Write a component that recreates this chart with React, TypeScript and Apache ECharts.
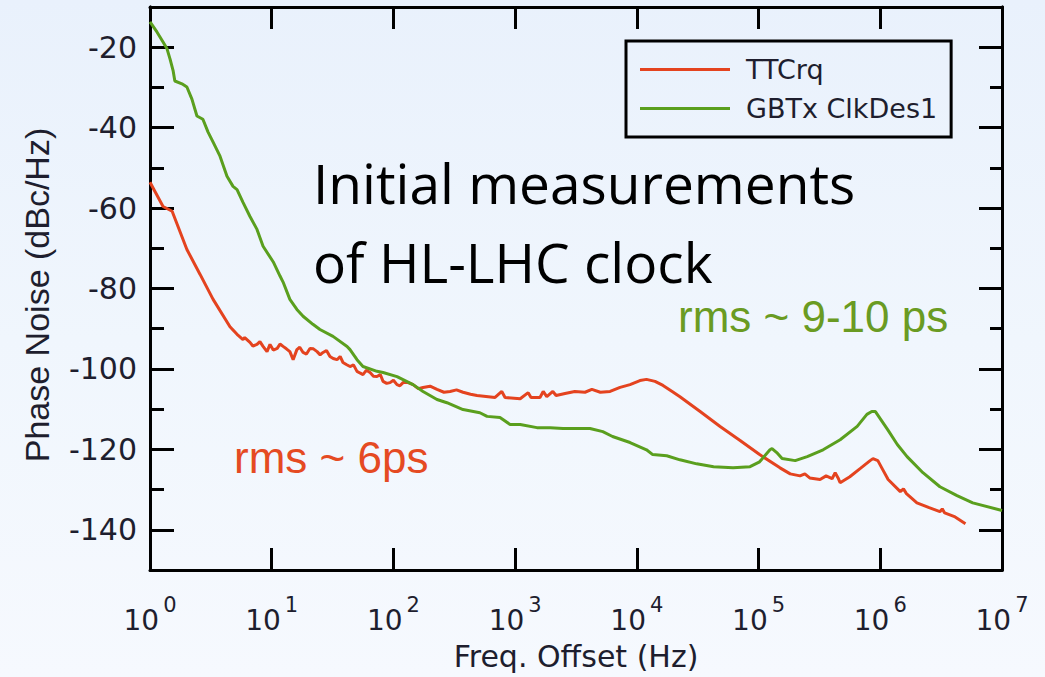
import React, { useEffect, useRef } from "react";
import * as echarts from "echarts";

// Phase-noise traces: offset frequency (Hz) and noise level (dBc/Hz)
const ttcFreq = [
  1, 1.28, 1.52, 2.01, 2.58, 3.3, 4.54, 5.19, 5.81, 6.0, 6.63, 7.0, 7.57, 8.0, 8.49, 9.15, 9.68, 10.3, 11.1,
  11.7, 12.4, 13.2, 14.1, 15.0, 16.1, 17.0, 18.1, 19.3, 20.6, 22.0, 23.6, 25.0, 26.4, 28.2, 30.1, 32.0,
  34.4, 36.5, 38.5, 41.0, 44.0, 47.0, 50.2, 53.0, 56.2, 60.0, 64.3, 68.5, 73.3, 78.0, 82.2, 88.0, 93.8, 100,
  107, 113, 120, 132, 145, 160, 175, 200, 228, 260, 292, 330, 373, 430, 486, 684, 777, 826, 1100, 1280,
  1350, 1600, 1700, 1820, 2040, 2170, 2570, 3090, 3750, 4270, 5010, 6030, 7280, 8790, 10600, 12000, 14100,
  16400, 19500, 22600, 33100, 48300, 70500, 102000, 150000, 182000, 219000, 240000, 263000, 320000,
  359000, 402000, 426000, 450000, 468000, 562000, 682000, 825000, 871000, 955000, 1050000, 1160000,
  1460000, 1550000, 1640000, 2000000, 2520000, 3090000, 3230000, 3380000, 4120000, 5010000,
];
const ttcNoise = [
  -53.6, -59.6, -60.8, -70.3, -76.5, -82.7, -89.5, -91.4, -92.7, -92.2, -93.4, -94.3, -93.9, -93.2, -94.4,
  -95.7, -93.9, -95.3, -94.9, -93.8, -94.4, -95.0, -95.7, -97.7, -95.2, -94.6, -95.9, -96.3, -94.9, -95.0,
  -95.7, -96.5, -95.9, -95.4, -96.9, -97.4, -97.7, -96.9, -98.4, -98.9, -99.4, -99.0, -100.6, -101.0,
  -101.4, -100.3, -100.9, -101.8, -101.9, -101.4, -103.1, -103.6, -103.4, -102.8, -103.9, -104.2, -103.4,
  -103.4, -103.9, -104.9, -104.6, -104.3, -105.1, -105.8, -105.6, -105.2, -105.8, -106.3, -106.6, -107.1,
  -105.6, -107.1, -107.4, -105.9, -107.1, -107.1, -105.6, -106.9, -105.6, -106.6, -106.1, -105.6, -105.8,
  -105.1, -105.8, -105.6, -104.6, -103.9, -102.9, -102.6, -103.1, -104.1, -105.6, -106.9, -110.6, -114.3,
  -117.8, -121.3, -124.6, -126.1, -126.6, -126.1, -127.1, -127.5, -126.6, -127.3, -125.8, -127.1, -128.3,
  -126.8, -124.8, -122.8, -122.3, -122.8, -125.1, -127.5, -130.5, -129.8, -131.0, -133.3, -134.5, -135.5,
  -134.8, -135.8, -136.8, -138.5,
];
const gbtFreq = [
  1, 1.14, 1.28, 1.38, 1.46, 1.55, 1.6, 1.83, 2.01, 2.21, 2.43, 2.72, 3.0, 3.3, 3.76, 4.29, 4.81, 5.19,
  5.81, 6.63, 7.57, 8.49, 10.3, 11.7, 12.4, 14.1, 16.1, 18.1, 21.8, 24.9, 31.9, 41.6, 44.0, 50.2, 56.2,
  73.3, 82.2, 107, 145, 175, 228, 275, 373, 513, 588, 751, 908, 1100, 1510, 1940, 2470, 4120, 5250, 6310,
  8790, 12000, 13500, 17600, 22600, 31000, 42700, 61700, 85100, 102000, 124000, 129000, 141000, 156000,
  200000, 251000, 339000, 468000, 646000, 776000, 851000, 912000, 1150000, 1380000, 1660000, 2240000,
  3090000, 4270000, 5750000, 10000000,
];
const gbtNoise = [
  -13.7, -16.2, -18.7, -20.4, -22.9, -25.9, -28.4, -29.1, -29.9, -32.9, -37.1, -37.9, -41.1, -43.6, -47.1,
  -52.1, -54.6, -55.4, -58.6, -62.1, -65.3, -69.5, -73.4, -76.9, -78.4, -82.7, -85.2, -86.9, -88.9, -90.2,
  -91.9, -94.4, -95.2, -97.7, -99.4, -100.6, -100.9, -101.9, -103.9, -105.6, -107.6, -108.4, -110.1,
  -110.9, -111.8, -112.1, -113.8, -113.8, -114.6, -114.6, -114.8, -114.8, -115.6, -116.8, -118.3, -120.1,
  -121.3, -121.6, -122.6, -123.6, -124.3, -124.6, -124.3, -123.1, -120.1, -119.8, -120.8, -122.3, -122.8,
  -121.8, -120.1, -117.6, -114.3, -111.3, -110.6, -110.6, -115.1, -118.8, -121.8, -125.8, -129.3, -131.5,
  -133.3, -135.2,
];

const seriesNames = ["TTCrq", "GBTx ClkDes1"];
const majorTicks = [-140, -120, -100, -80, -60, -40, -20];
const minorTicks = [-130, -110, -90, -70, -50, -30];

const RED = "#e4431f";
const GREEN = "#5a9f1e";
const INK = "#1e1e2e";

const pairs = (xs: number[], ys: number[]) => xs.map((x, i) => [x, ys[i]]);

export default function App() {
  const ref = useRef<HTMLDivElement>(null);

  useEffect(() => {
    if (!ref.current) return;
    const chart = echarts.init(ref.current, undefined, { renderer: "svg" });

    const frame = { show: true, lineStyle: { color: "#000", width: 3 } };
    const yBase = { type: "value" as const, min: -150, max: -10, splitLine: { show: false } };
    const xBase = {
      type: "log" as const,
      logBase: 10,
      min: 1,
      max: 10000000,
      splitLine: { show: false },
      axisLine: frame,
      axisTick: { show: true, inside: true, length: 22, lineStyle: { color: "#000", width: 3 } },
    };

    chart.setOption({
      animation: false,
      backgroundColor: "transparent",
      textStyle: { fontFamily: "DejaVu Sans" },
      grid: { left: 150, top: 7, right: 43, bottom: 107 },
      xAxis: [
        {
          ...xBase,
          position: "bottom",
          name: "Freq. Offset (Hz)",
          nameLocation: "middle",
          nameGap: 71,
          nameTextStyle: { fontFamily: "DejaVu Sans", fontSize: 30, color: INK },
          axisLabel: {
            margin: 24,
            formatter: (v: number) => `{b|10}{s|${Math.round(Math.log10(v))}}`,
            rich: {
              b: { fontFamily: "DejaVu Sans", fontSize: 28, lineHeight: 40, color: INK, verticalAlign: "bottom" },
              s: {
                fontFamily: "DejaVu Sans",
                fontSize: 21,
                lineHeight: 40,
                color: INK,
                verticalAlign: "top",
                padding: [0, 0, 19, 4],
              },
            },
          },
        },
        { ...xBase, position: "top", axisLabel: { show: false } },
      ],
      yAxis: [
        {
          ...yBase,
          position: "left",
          name: "Phase Noise (dBc/Hz)",
          nameLocation: "middle",
          nameGap: 96,
          nameTextStyle: {
            fontFamily: "Liberation Sans",
            fontSize: 34,
            color: INK,
            padding: [0, 13, 0, 0],
          },
          axisLine: frame,
          axisTick: {
            show: true,
            inside: true,
            length: 24,
            customValues: majorTicks,
            lineStyle: { color: "#000", width: 3 },
          },
          axisLabel: {
            customValues: majorTicks,
            margin: 13,
            fontFamily: "DejaVu Sans",
            fontSize: 30,
            color: INK,
          },
        },
        {
          ...yBase,
          position: "left",
          axisLine: frame,
          axisTick: {
            show: true,
            inside: true,
            length: 14,
            customValues: minorTicks,
            lineStyle: { color: "#000", width: 3 },
          },
          axisLabel: { show: false },
        },
        {
          ...yBase,
          position: "right",
          axisLine: frame,
          axisTick: {
            show: true,
            inside: true,
            length: 23,
            customValues: majorTicks,
            lineStyle: { color: "#000", width: 3 },
          },
          axisLabel: { show: false },
        },
        {
          ...yBase,
          position: "right",
          axisLine: frame,
          axisTick: {
            show: true,
            inside: true,
            length: 12,
            customValues: minorTicks,
            lineStyle: { color: "#000", width: 3 },
          },
          axisLabel: { show: false },
        },
      ],
      legend: {
        orient: "vertical",
        left: 626,
        top: 41,
        width: 330,
        padding: [15, 14, 15, 14],
        icon: "rect",
        itemWidth: 90,
        itemHeight: 3,
        itemGap: 12,
        borderColor: "#000",
        borderWidth: 3,
        backgroundColor: "transparent",
        textStyle: { fontFamily: "DejaVu Sans", fontSize: 27, color: INK, padding: [0, 0, 0, 11] },
        data: seriesNames,
      },
      series: [
        {
          name: seriesNames[0],
          type: "line",
          xAxisIndex: 0,
          yAxisIndex: 0,
          symbol: "none",
          lineStyle: { color: RED, width: 3 },
          itemStyle: { color: RED },
          data: pairs(ttcFreq, ttcNoise),
        },
        {
          name: seriesNames[1],
          type: "line",
          xAxisIndex: 0,
          yAxisIndex: 0,
          symbol: "none",
          lineStyle: { color: GREEN, width: 3 },
          itemStyle: { color: GREEN },
          data: pairs(gbtFreq, gbtNoise),
        },
      ],
      graphic: [
        {
          type: "text",
          x: 313,
          y: 182,
          style: {
            text: "Initial measurements",
            font: "55px 'Open Sans'",
            fill: "#000",
            align: "left",
            verticalAlign: "middle",
          },
        },
        {
          type: "text",
          x: 313,
          y: 261,
          style: {
            text: "of HL-LHC clock",
            font: "55px 'Open Sans'",
            fill: "#000",
            align: "left",
            verticalAlign: "middle",
          },
        },
        {
          type: "text",
          x: 678,
          y: 316,
          style: {
            text: "rms ~ 9-10 ps",
            font: "44px 'Liberation Sans'",
            fill: "#6a9b22",
            align: "left",
            verticalAlign: "middle",
          },
        },
        {
          type: "text",
          x: 234,
          y: 457,
          style: {
            text: "rms ~ 6ps",
            font: "44px 'Liberation Sans'",
            fill: "#e54a22",
            align: "left",
            verticalAlign: "middle",
          },
        },
      ],
    });

    return () => chart.dispose();
  }, []);

  return (
    <div
      style={{
        position: "fixed",
        left: 0,
        top: 0,
        width: 1045,
        height: 677,
        background: "linear-gradient(180deg, #e9f1fc 0%, #f0f6fd 50%, #f6f9fe 100%)",
      }}
    >
      <div ref={ref} style={{ width: 1045, height: 677 }} />
    </div>
  );
}
